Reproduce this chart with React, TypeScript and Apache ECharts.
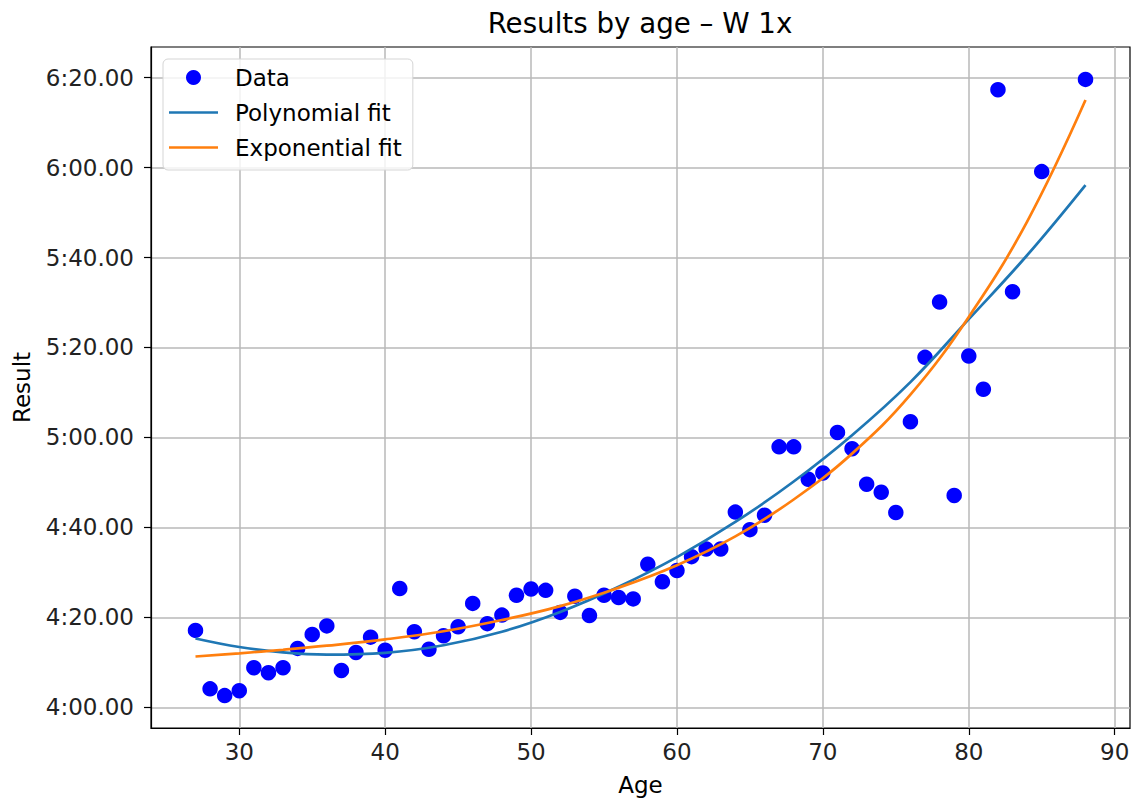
import React, { useEffect, useRef } from "react";
import * as echarts from "echarts";

const ages = [
  27, 28, 29, 30, 31, 32, 33, 34, 35, 36,
  37, 38, 39, 40, 41, 42, 43, 44, 45, 46,
  47, 48, 49, 50, 51, 52, 53, 54, 55, 56,
  57, 58, 59, 60, 61, 62, 63, 64, 65, 66,
  67, 68, 69, 70, 71, 72, 73, 74, 75, 76,
  77, 78, 79, 80, 81, 82, 83, 85, 88,
];
// results in seconds
const results = [
  257.1, 244.1, 242.6, 243.7, 248.8, 247.7, 248.8, 253.1, 256.2, 258.1,
  248.2, 252.2, 255.6, 252.7, 266.4, 256.8, 252.9, 255.9, 257.9, 263.1,
  258.6, 260.5, 264.9, 266.3, 266.0, 261.1, 264.7, 260.4, 264.9, 264.4,
  264.1, 271.8, 267.9, 270.4, 273.5, 275.2, 275.2, 283.4, 279.5, 282.7,
  297.9, 297.9, 290.7, 292.1, 301.1, 297.5, 289.6, 287.8, 283.3, 303.5,
  317.8, 330.1, 287.1, 318.1, 310.7, 377.3, 332.4, 359.1, 379.6,
];
const fitAges = [27, 30, 33, 36, 40, 44, 48, 52, 56, 60, 64, 68, 72, 76, 80, 84, 88];
const polyFit = [255.3, 253.4, 252.2, 251.7, 252.1, 253.8, 256.8, 261.2, 266.8, 273.4, 281.2, 290.2, 300.5, 312.3, 326.3, 340.5, 356.1];
const expFit = [251.3, 252.0, 252.8, 253.7, 255.1, 256.9, 259.4, 262.5, 266.6, 271.6, 278.0, 286.2, 296.4, 309.5, 326.8, 348.0, 375.0];
const xTicks = [30, 40, 50, 60, 70, 80, 90];
const yTicks = [240, 260, 280, 300, 320, 340, 360, 380];

const FONT = "DejaVu Sans";
const LINE_ICON = "path://M0,0L0,0M0,6.2L49,6.2L49,8.8L0,8.8ZM49,15L49,15";

function fmtTime(v: number): string {
  const m = Math.floor(v / 60 + 1e-9);
  const s = Math.round(v - m * 60);
  return `${m}:${String(s).padStart(2, "0")}.00`;
}

export default function App() {
  const ref = useRef<HTMLDivElement>(null);
  useEffect(() => {
    const chart = echarts.init(ref.current!, null, { renderer: "svg" });
    chart.setOption({
      animation: false,
      backgroundColor: "#ffffff",
      title: {
        text: "Results by age \u2013 W 1x",
        left: 640,
        textAlign: "center",
        top: 9,
        padding: 0,
        textStyle: { fontFamily: FONT, fontSize: 27.7, fontWeight: "normal", color: "#000" },
      },
      legend: {
        orient: "vertical",
        left: 163,
        top: 59,
        padding: [7, 11, 11, 6],
        itemWidth: 49,
        itemHeight: 15,
        itemGap: 12,
        backgroundColor: "rgba(255,255,255,0.8)",
        borderColor: "#d5d5d5",
        borderWidth: 1,
        borderRadius: 5,
        textStyle: { fontFamily: FONT, fontSize: 23, color: "#000", padding: [0, 0, 0, 12] },
        data: [
          { name: "Data", icon: "circle", itemStyle: { color: "#0000ff", opacity: 1 } },
          { name: "Polynomial fit", icon: LINE_ICON, itemStyle: { color: "#1f77b4" } },
          { name: "Exponential fit", icon: LINE_ICON, itemStyle: { color: "#ff7f0e" } },
        ],
      },
      grid: {
        left: 151,
        top: 47,
        right: 1,
        bottom: 72,
        show: true,
        outerBoundsMode: "none",
        containLabel: false,
        borderColor: "#000",
        borderWidth: 1.2,
        backgroundColor: "transparent",
      },
      xAxis: {
        type: "value",
        min: 23.95,
        max: 91.05,
        splitNumber: 7,
        name: "Age",
        nameLocation: "middle",
        nameGap: 45,
        nameTextStyle: { fontFamily: FONT, fontSize: 23, color: "#000" },
        axisLine: { show: true, lineStyle: { color: "#000", width: 1.2 } },
        axisTick: { show: true, length: 7, customValues: xTicks, lineStyle: { color: "#000", width: 1.2 } },
        axisLabel: {
          customValues: xTicks,
          margin: 12,
          fontFamily: FONT,
          fontSize: 23,
          color: "#222",
        },
        splitLine: { show: true, lineStyle: { color: "#b8b8b8", width: 1.5 } },
      },
      yAxis: {
        type: "value",
        min: 235.4,
        max: 386.8,
        splitNumber: 7,
        name: "Result",
        nameLocation: "middle",
        nameRotate: 90,
        nameGap: 118,
        nameTextStyle: { fontFamily: FONT, fontSize: 23, color: "#000" },
        axisLine: { show: true, lineStyle: { color: "#000", width: 1.2 } },
        axisTick: { show: true, length: 7, customValues: yTicks, lineStyle: { color: "#000", width: 1.2 } },
        axisLabel: {
          customValues: yTicks,
          margin: 17,
          fontFamily: FONT,
          fontSize: 23,
          color: "#222",
          formatter: (v: number) => fmtTime(v),
        },
        splitLine: { show: true, lineStyle: { color: "#b8b8b8", width: 1.5 } },
      },
      series: [
        {
          name: "Data",
          type: "scatter",
          symbol: "circle",
          symbolSize: 15.5,
          itemStyle: { color: "#0000ff", opacity: 1 },
          data: ages.map((a, i) => [a, results[i]]),
          z: 2,
        },
        {
          name: "Polynomial fit",
          type: "line",
          showSymbol: false,
          symbol: "none",
          smooth: 0.4,
          lineStyle: { color: "#1f77b4", width: 2.7 },
          itemStyle: { color: "#1f77b4" },
          data: fitAges.map((a, i) => [a, polyFit[i]]),
          z: 3,
        },
        {
          name: "Exponential fit",
          type: "line",
          showSymbol: false,
          symbol: "none",
          smooth: 0.4,
          lineStyle: { color: "#ff7f0e", width: 2.7 },
          itemStyle: { color: "#ff7f0e" },
          data: fitAges.map((a, i) => [a, expFit[i]]),
          z: 3,
        },
      ],
    });
    return () => chart.dispose();
  }, []);
  return (
    <div
      ref={ref}
      style={{ position: "fixed", left: 0, top: 0, width: 1131, height: 800 }}
    />
  );
}
